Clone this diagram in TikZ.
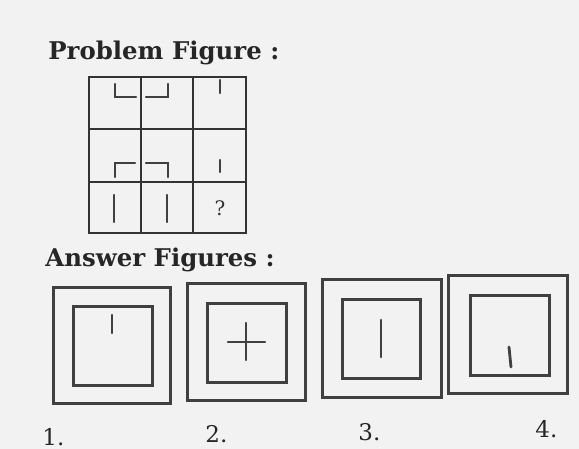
\documentclass[tikz,border=0pt]{standalone}
\usepackage{fontspec}
\setmainfont{DejaVu Serif}
\usepackage{tikz}
\usetikzlibrary{calc}

\begin{document}
\begin{tikzpicture}[x=0.5pt, y=-0.5pt, line cap=round,
		gridline/.style={line width=1.1pt, draw=black!80},
		stroke/.style={line width=1.1pt, draw=black!75},
		boxline/.style={line width=1.5pt, draw=black!75},
		heading/.style={anchor=base west, inner sep=0pt, font=\bfseries\fontsize{12.2}{14}\selectfont, text=black!85},
		optnum/.style={anchor=base west, inner sep=0pt, font=\fontsize{11.5}{13}\selectfont, text=black!85}]
		\def\ansbox#1#2#3#4#5#6#7#8{\draw[boxline] (#1,#2) rectangle (#3,#4); \draw[boxline] (#5,#6) rectangle (#7,#8);}
		\fill[black!5] (0,0) rectangle (579,449);
		\useasboundingbox (0,0) rectangle (579,449);
		% problem figure
		\begin{scope}
			\node[heading] (probhead) at (48,60) {Problem Figure :};
			\draw[gridline] (89,77) rectangle (246,233);
			\draw[gridline] (141,77) -- (141,233);
			\draw[gridline] (193,77) -- (193,233);
			\draw[gridline] (89,129) -- (246,129);
			\draw[gridline] (89,182) -- (246,182);
			% row 1
			\draw[stroke] (115,84) -- (115,97) -- (136,97);
			\draw[stroke] (146,97) -- (168,97) -- (168,84);
			\draw[stroke] (220,80) -- (220,93);
			% row 2
			\draw[stroke] (115,177) -- (115,163) -- (135,163);
			\draw[stroke] (146,163) -- (168,163) -- (168,177);
			\draw[stroke] (220,160) -- (220,172);
			% row 3
			\draw[stroke] (114,195) -- (114,222);
			\draw[stroke] (167,195) -- (167,222);
			\node[inner sep=0pt, font=\fontsize{10}{12}\selectfont, text=black!80] (qmark) at (220,208) {?};
		\end{scope}
		% answer figures
		\begin{scope}
			\node[heading] (anshead) at (45,266) {Answer Figures :};
			\ansbox{53}{287}{170}{403}{73}{306}{152}{385}
			\draw[stroke] (112,315) -- (112,333);
			\ansbox{187}{283}{305}{400}{207}{303}{286}{382}
			\draw[stroke] (228,342) -- (265,342);
			\draw[stroke] (246,323) -- (246,360);
			\ansbox{322}{279}{441}{397}{342}{299}{420}{378}
			\draw[stroke, line width=1.4pt] (381,320) -- (381,357);
			\ansbox{448}{275}{567}{393}{470}{295}{549}{375}
			\draw[stroke, line width=1.4pt] (509,347) -- (511,367);
			\node[optnum] (opt1) at (42,445) {1.};
			\node[optnum] (opt2) at (205,442) {2.};
			\node[optnum] (opt3) at (358,440) {3.};
			\node[optnum] (opt4) at (535,437) {4.};
		\end{scope}
	\end{tikzpicture}
\end{document}
